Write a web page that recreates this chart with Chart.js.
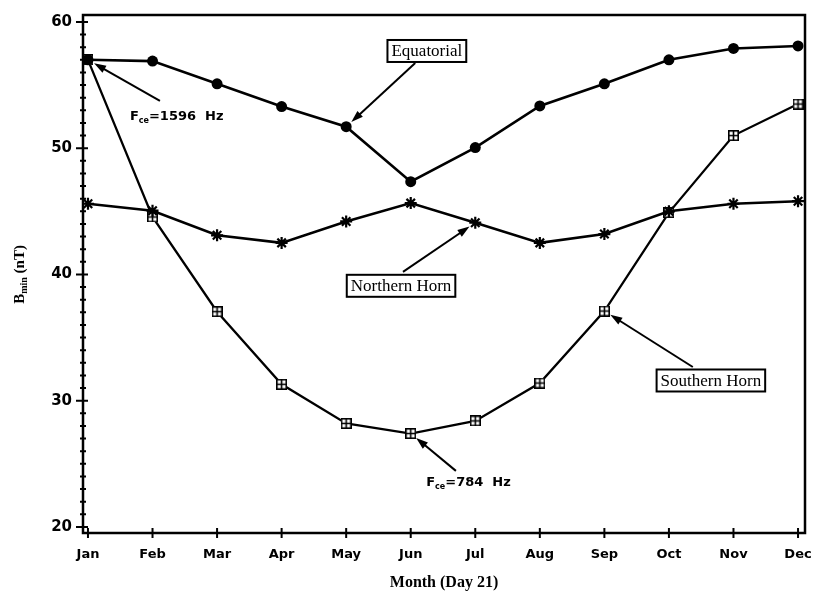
<!DOCTYPE html>
<html>
<head>
<meta charset="utf-8">
<script src="https://cdn.jsdelivr.net/npm/chart.js@4.4.1/dist/chart.umd.min.js"></script>
<style>
  html, body { margin: 0; padding: 0; background: #fff; }
  #wrap { width: 814px; height: 592px; }
</style>
</head>
<body>
<div id="wrap"><canvas id="chart" width="814" height="592"></canvas></div>
<script>
const months = ["Jan", "Feb", "Mar", "Apr", "May", "Jun", "Jul", "Aug", "Sep", "Oct", "Nov", "Dec"];
const equatorial = [57.0, 56.9, 55.1, 53.3, 51.7, 47.35, 50.05, 53.35, 55.1, 57.0, 57.9, 58.1];
const northernHorn = [45.6, 45.05, 43.1, 42.5, 44.2, 45.65, 44.1, 42.5, 43.2, 45.0, 45.6, 45.8];
const southernHorn = [57.0, 44.55, 37.05, 31.3, 28.2, 27.4, 28.4, 31.4, 37.1, 44.9, 51.0, 53.5];
const yTicks = [20, 30, 40, 50, 60];

// little square with a cross in it, like the printed marker
function boxCross(size) {
  const c = document.createElement("canvas");
  c.width = size; c.height = size;
  const g = c.getContext("2d");
  g.fillStyle = "#fff";
  g.fillRect(0, 0, size, size);
  g.strokeStyle = "#000";
  g.lineWidth = 1.6;
  g.strokeRect(0.8, 0.8, size - 1.6, size - 1.6);
  g.beginPath();
  g.moveTo(size / 2, 1); g.lineTo(size / 2, size - 1);
  g.moveTo(1, size / 2); g.lineTo(size - 1, size / 2);
  g.stroke();
  return c;
}

const toXY = (arr) => arr.map((v, i) => ({ x: i, y: v }));

// labels and arrows, placed in data units
const notes = [
  { kind: "box", text: "Equatorial", at: [5.25, 57.7], from: [5.07, 56.75], to: [4, equatorial[4]] },
  { kind: "fce", text: "=1596  Hz", at: [0.65, 52.5], from: [1.115, 53.74], to: [0, equatorial[0]] },
  { kind: "box", text: "Northern Horn", at: [4.85, 39.1], from: [4.88, 40.2], to: [6, northernHorn[6]] },
  { kind: "box", text: "Southern Horn", at: [9.65, 31.6], from: [9.37, 32.67], to: [8, southernHorn[8]] },
  { kind: "fce", text: "=784  Hz", at: [5.24, 23.5], from: [5.7, 24.44], to: [5, southernHorn[5]] },
];

function arrow(ctx, x1, y1, x2, y2, gap) {
  const a = Math.atan2(y2 - y1, x2 - x1);
  const c = Math.cos(a), s = Math.sin(a);
  const tx = x2 - c * gap, ty = y2 - s * gap;
  ctx.beginPath();
  ctx.moveTo(x1, y1);
  ctx.lineTo(tx - c * 6, ty - s * 6);
  ctx.stroke();
  ctx.beginPath();
  ctx.moveTo(tx, ty);
  ctx.lineTo(tx - c * 12 + s * 4, ty - s * 12 - c * 4);
  ctx.lineTo(tx - c * 12 - s * 4, ty - s * 12 + c * 4);
  ctx.closePath();
  ctx.fill();
}

const decor = {
  id: "decor",
  afterDraw(chart) {
    const ctx = chart.ctx;
    const a = chart.chartArea;
    const xs = chart.scales.x, ys = chart.scales.y;
    ctx.save();
    ctx.strokeStyle = "#000";
    ctx.fillStyle = "#000";

    // frame
    ctx.lineWidth = 2.5;
    ctx.strokeRect(a.left, a.top, a.right - a.left, a.bottom - a.top);

    // y ticks: every unit, longer at labelled values
    ctx.lineWidth = 2;
    ctx.beginPath();
    for (let v = 20; v <= 60; v++) {
      const py = ys.getPixelForValue(v);
      const major = v % 10 === 0;
      ctx.moveTo(a.left - (major ? 7 : 3), py);
      ctx.lineTo(a.left + (major ? 5 : 3), py);
    }
    // x ticks
    months.forEach((m, i) => {
      const px = xs.getPixelForValue(i);
      ctx.moveTo(px, a.bottom - 5);
      ctx.lineTo(px, a.bottom + 5);
    });
    ctx.stroke();

    // annotations
    ctx.lineWidth = 2;
    notes.forEach((n) => {
      const px = xs.getPixelForValue(n.at[0]);
      const py = ys.getPixelForValue(n.at[1]);
      if (n.kind === "box") {
        ctx.font = "17px 'Liberation Serif'";
        const w = ctx.measureText(n.text).width + 8;
        const h = 22;
        ctx.fillStyle = "#fff";
        ctx.fillRect(px - w / 2, py - h / 2, w, h);
        ctx.strokeRect(px - w / 2, py - h / 2, w, h);
        ctx.fillStyle = "#000";
        ctx.textAlign = "center";
        ctx.textBaseline = "middle";
        ctx.fillText(n.text, px, py + 1);
      } else {
        ctx.textAlign = "left";
        ctx.textBaseline = "middle";
        ctx.font = "bold 13px 'DejaVu Sans'";
        ctx.fillText("F", px, py);
        let x = px + ctx.measureText("F").width;
        ctx.font = "bold 8px 'DejaVu Sans'";
        ctx.fillText("ce", x, py + 4);
        x += ctx.measureText("ce").width;
        ctx.font = "bold 13px 'DejaVu Sans'";
        ctx.fillText(n.text, x, py);
      }
      arrow(ctx, xs.getPixelForValue(n.from[0]), ys.getPixelForValue(n.from[1]),
        xs.getPixelForValue(n.to[0]), ys.getPixelForValue(n.to[1]), 7);
    });

    // y axis title with subscript
    ctx.translate(20, ys.getPixelForValue(40));
    ctx.rotate(-Math.PI / 2);
    ctx.textBaseline = "middle";
    ctx.textAlign = "left";
    const big = "bold 15px 'Liberation Serif'";
    const small = "bold 10px 'Liberation Serif'";
    ctx.font = big;
    const wB = ctx.measureText("B").width;
    const wR = ctx.measureText(" (nT)").width;
    ctx.font = small;
    const wS = ctx.measureText("min").width;
    let x = -(wB + wS + wR) / 2;
    ctx.font = big;
    ctx.fillText("B", x, 0);
    x += wB;
    ctx.font = small;
    ctx.fillText("min", x, 4);
    x += wS;
    ctx.font = big;
    ctx.fillText(" (nT)", x, 0);
    ctx.restore();
  },
};

new Chart(document.getElementById("chart"), {
  type: "line",
  data: {
    datasets: [
      {
        label: "Equatorial",
        data: toXY(equatorial),
        borderColor: "#000",
        backgroundColor: "#000",
        borderWidth: 2.6,
        pointStyle: "circle",
        pointRadius: 5.5,
        pointBorderWidth: 0,
      },
      {
        label: "Northern Horn",
        data: toXY(northernHorn),
        borderColor: "#000",
        backgroundColor: "#000",
        borderWidth: 2.6,
        pointStyle: "star",
        pointRadius: 6,
        pointBorderWidth: 2.2,
      },
      {
        label: "Southern Horn",
        data: toXY(southernHorn),
        borderColor: "#000",
        backgroundColor: "#000",
        borderWidth: 2.3,
        pointStyle: boxCross(11),
        pointRadius: 6,
      },
    ],
  },
  options: {
    responsive: false,
    animation: false,
    layout: { padding: { top: 15, right: 9, left: 0, bottom: 0 } },
    plugins: {
      legend: { display: false },
      tooltip: { enabled: false },
    },
    scales: {
      x: {
        type: "linear",
        min: -0.077,
        max: 11.108,
        afterBuildTicks: (s) => { s.ticks = months.map((m, i) => ({ value: i })); },
        afterFit: (s) => { s.height = 59; s.paddingLeft = 0; s.paddingRight = 0; },
        grid: { display: false, drawTicks: false },
        border: { display: false },
        ticks: {
          autoSkip: false,
          maxRotation: 0,
          padding: 14,
          color: "#000",
          font: { family: "'DejaVu Sans'", size: 13, weight: "bold" },
          callback: (v) => months[v],
        },
        title: {
          display: true,
          text: "Month (Day 21)",
          color: "#000",
          font: { family: "'Liberation Serif'", size: 16, weight: "bold" },
          padding: { top: 4, bottom: 0 },
        },
      },
      y: {
        min: 19.52,
        max: 60.55,
        afterBuildTicks: (s) => { s.ticks = yTicks.map((v) => ({ value: v })); },
        afterFit: (s) => { s.width = 83; s.paddingTop = 0; s.paddingBottom = 0; },
        grid: { display: false, drawTicks: false },
        border: { display: false },
        ticks: {
          padding: 11,
          color: "#000",
          font: { family: "'DejaVu Sans'", size: 15, weight: "bold" },
        },
      },
    },
  },
  plugins: [decor],
});
</script>
</body>
</html>
